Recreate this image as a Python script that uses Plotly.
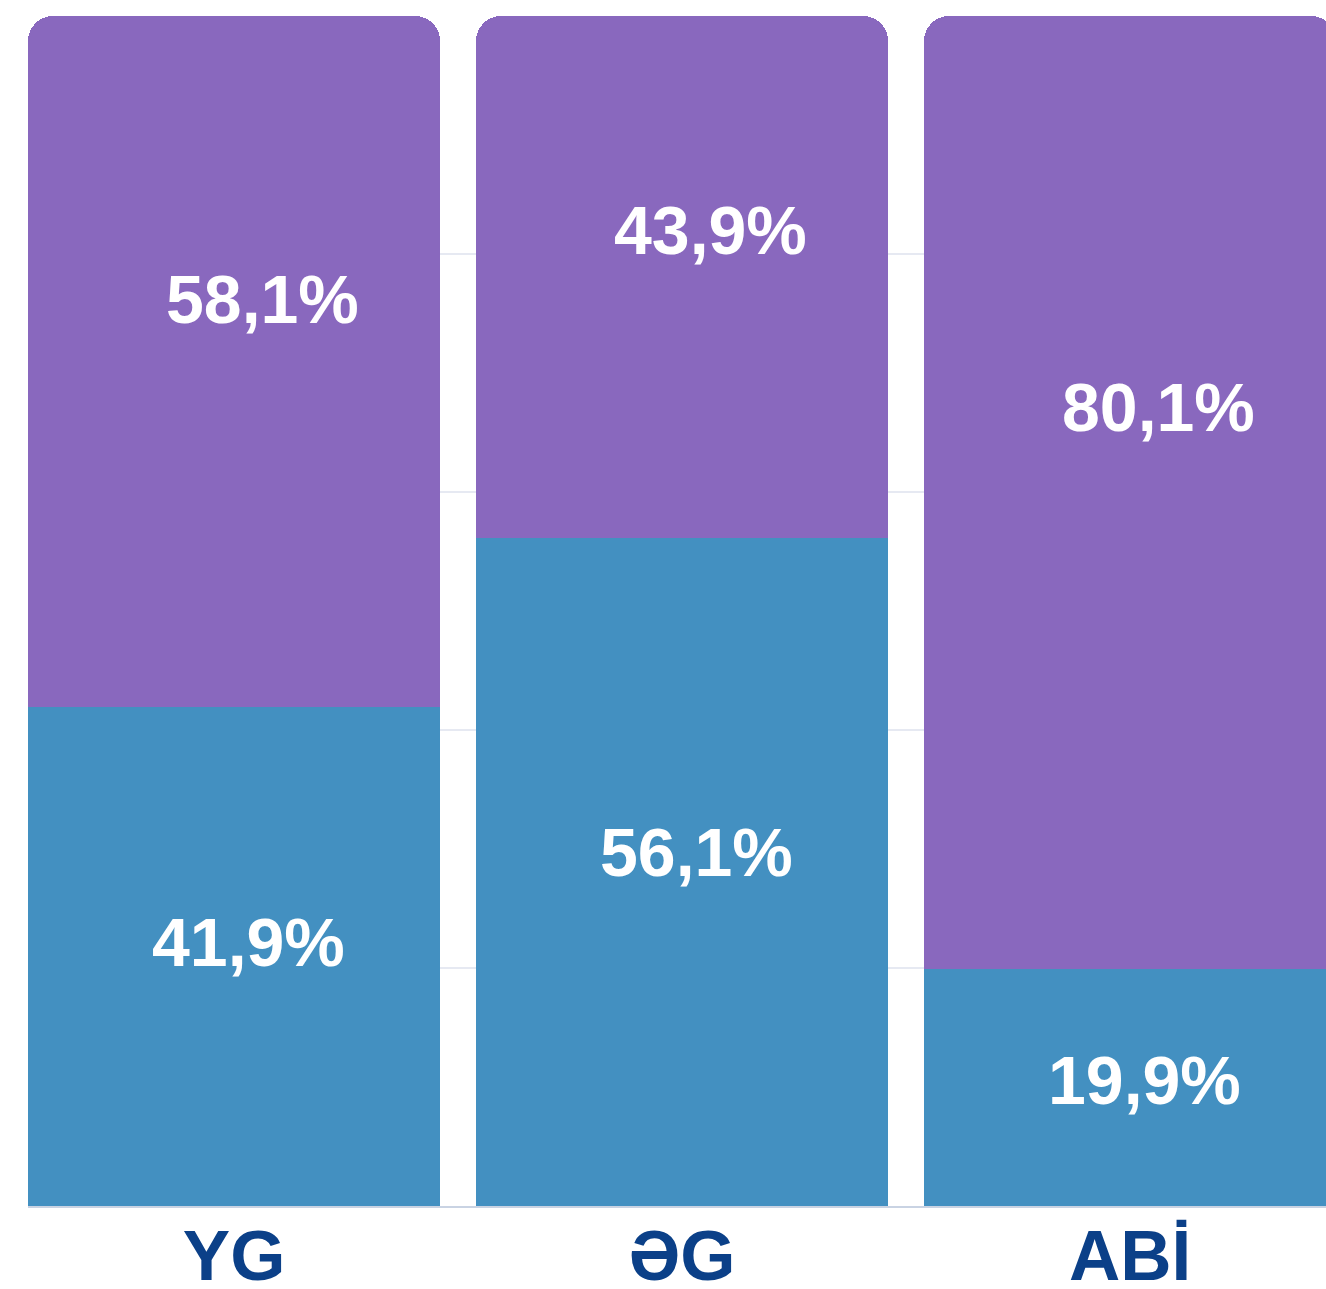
import plotly.graph_objects as go

categories = ["YG", "ƏG", "ABİ"]
blue_values = [41.9, 56.1, 19.9]
purple_values = [58.1, 43.9, 80.1]
blue_labels = ["41,9%", "56,1%", "19,9%"]
purple_labels = ["58,1%", "43,9%", "80,1%"]

BLUE = "#4390C1"
PURPLE = "#8968BE"
NAVY = "#0B4088"
FONT = "Liberation Sans, Arial, sans-serif"

x_idx = list(range(len(categories)))

fig = go.Figure()
fig.add_trace(go.Bar(x=x_idx, y=blue_values, marker=dict(color=BLUE, line=dict(width=0)),
                     width=0.92, hoverinfo="skip"))
fig.add_trace(go.Bar(x=x_idx, y=purple_values, marker=dict(color=PURPLE, line=dict(width=0)),
                     width=0.92, hoverinfo="skip"))

annotations = []
for i in x_idx:
    annotations.append(dict(x=i, y=blue_values[i] + purple_values[i] * 0.59, text=purple_labels[i],
                            showarrow=False, xshift=28,
                            font=dict(family=FONT, size=68, color="white", weight="bold")))
    annotations.append(dict(x=i, y=blue_values[i] * 0.53, text=blue_labels[i],
                            showarrow=False, xshift=14,
                            font=dict(family=FONT, size=68, color="white", weight="bold")))

fig.update_layout(
    barmode="stack",
    barcornerradius=25,
    width=1326, height=1289,
    margin=dict(l=28, r=0, t=16, b=83),
    paper_bgcolor="white", plot_bgcolor="white",
    showlegend=False,
    annotations=annotations,
    xaxis=dict(range=[-0.46, -0.46 + 1298 / 448], tickmode="array", tickvals=x_idx,
               ticktext=categories, showgrid=False, zeroline=False,
               showline=True, linecolor="#C9D3E3", linewidth=2,
               tickfont=dict(family=FONT, size=71, color=NAVY, weight="bold"),
               ticks="", ticklabelstandoff=-13, automargin=False),
    yaxis=dict(range=[0, 100], dtick=20, showticklabels=False, showgrid=True,
               gridcolor="#E6E9F2", gridwidth=2, zeroline=False, showline=False,
               automargin=False),
)

fig.write_html("out.html", config={"displayModeBar": False},
               post_script="document.body.style.margin='0px';document.body.style.overflow='hidden';")
